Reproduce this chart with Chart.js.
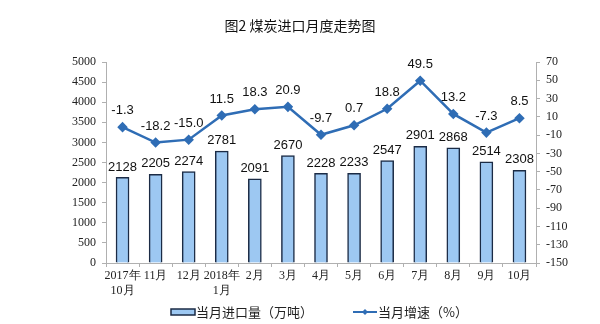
<!DOCTYPE html>
<html>
<head>
<meta charset="utf-8">
<script src="https://cdn.jsdelivr.net/npm/chart.js@4"></script>
<style>
  html, body { margin: 0; padding: 0; background: #fff; }
  #wrap { position: relative; width: 600px; height: 324px; }
  #title {
    position: absolute; left: 0; top: 15px; width: 600px; text-align: center;
    font: 400 14px "Noto Sans CJK SC", sans-serif; color: #111;
  }
</style>
</head>
<body>
<div id="wrap">
  <div id="title">图2&nbsp;煤炭进口月度走势图</div>
  <canvas id="myChart" width="600" height="324"></canvas>
</div>
<script>
const months = [
  ["2017年", "10月"], "11月", "12月", ["2018年", "1月"], "2月", "3月", "4月",
  "5月", "6月", "7月", "8月", "9月", "10月"
];
const importVolume = [2128, 2205, 2274, 2781, 2091, 2670, 2228, 2233, 2547, 2901, 2868, 2514, 2308];
const growthRate = [-1.3, -18.2, -15.0, 11.5, 18.3, 20.9, -9.7, 0.7, 18.8, 49.5, 13.2, -7.3, 8.5];

const barLabel = "当月进口量（万吨）";
const lineLabel = "当月增速（%）";

const tickFont = { family: "Liberation Serif", size: 12 };
const axisColor = "#b0b0b0";

// value labels above bars and points
const valueLabels = {
  id: "valueLabels",
  afterDatasetsDraw(chart) {
    const ctx = chart.ctx;
    ctx.save();
    ctx.font = "13px 'Liberation Sans', Arial, sans-serif";
    ctx.fillStyle = "#111";
    ctx.textAlign = "center";
    ctx.textBaseline = "bottom";
    chart.getDatasetMeta(0).data.forEach((el, i) => {
      ctx.fillText(String(importVolume[i]), el.x, el.y - 4);
    });
    chart.getDatasetMeta(1).data.forEach((el, i) => {
      ctx.fillText(growthRate[i].toFixed(1), el.x, el.y - 10);
    });
    ctx.restore();
  }
};

// legend row under the axis
const legendRow = {
  id: "legendRow",
  afterDraw(chart) {
    const ctx = chart.ctx;
    const y = 312;
    ctx.save();
    ctx.font = "13px 'Noto Sans CJK SC', sans-serif";
    ctx.textBaseline = "middle";

    ctx.fillStyle = "#9dc8f2";
    ctx.strokeStyle = "#1b2b45";
    ctx.lineWidth = 1.5;
    ctx.fillRect(171, y - 3, 24, 6);
    ctx.strokeRect(171, y - 3, 24, 6);
    ctx.fillStyle = "#222";
    ctx.fillText(barLabel, 196, y);

    ctx.strokeStyle = "#2f6db5";
    ctx.lineWidth = 2;
    ctx.beginPath();
    ctx.moveTo(353, y);
    ctx.lineTo(377, y);
    ctx.stroke();
    ctx.fillStyle = "#2f6db5";
    ctx.beginPath();
    ctx.moveTo(365, y - 3); ctx.lineTo(368, y); ctx.lineTo(365, y + 3); ctx.lineTo(362, y);
    ctx.closePath();
    ctx.fill();
    ctx.fillStyle = "#222";
    ctx.fillText(lineLabel, 378, y);
    ctx.restore();
  }
};

new Chart(document.getElementById("myChart"), {
  type: "bar",
  data: {
    labels: months,
    datasets: [
      {
        type: "bar",
        label: barLabel,
        data: importVolume,
        yAxisID: "y",
        backgroundColor: "#9dc8f2",
        borderColor: "#1b2b45",
        borderWidth: 1.5,
        barThickness: 13,
        order: 2
      },
      {
        type: "line",
        label: lineLabel,
        data: growthRate,
        yAxisID: "y1",
        borderColor: "#2f6db5",
        backgroundColor: "#2f6db5",
        borderWidth: 2.5,
        pointStyle: "rectRot",
        pointRadius: 3.5,
        tension: 0,
        order: 1
      }
    ]
  },
  options: {
    responsive: false,
    animation: false,
    layout: { padding: { top: 62, bottom: 26, left: 0, right: 0 } },
    plugins: {
      legend: { display: false },
      tooltip: { enabled: false }
    },
    scales: {
      x: {
        offset: true,
        grid: { offset: true, drawOnChartArea: false, color: axisColor, tickLength: 4 },
        border: { color: axisColor },
        ticks: { font: tickFont, color: "#222", maxRotation: 0, autoSkip: false, padding: 2 },
        afterFit(scale) { scale.height = 35; }
      },
      y: {
        position: "left",
        min: 0, max: 5000,
        ticks: { stepSize: 500, font: tickFont, color: "#222", padding: 6, callback: v => String(v) },
        grid: { drawOnChartArea: false, color: axisColor, tickLength: 4 },
        border: { color: axisColor },
        afterFit(scale) { scale.width = 106; }
      },
      y1: {
        position: "right",
        min: -150, max: 70,
        ticks: { stepSize: 20, font: tickFont, color: "#222", padding: 6, callback: v => String(v) },
        grid: { drawOnChartArea: false, color: axisColor, tickLength: 4 },
        border: { color: axisColor },
        afterFit(scale) { scale.width = 64; }
      }
    }
  },
  plugins: [valueLabels, legendRow]
});
</script>
</body>
</html>
